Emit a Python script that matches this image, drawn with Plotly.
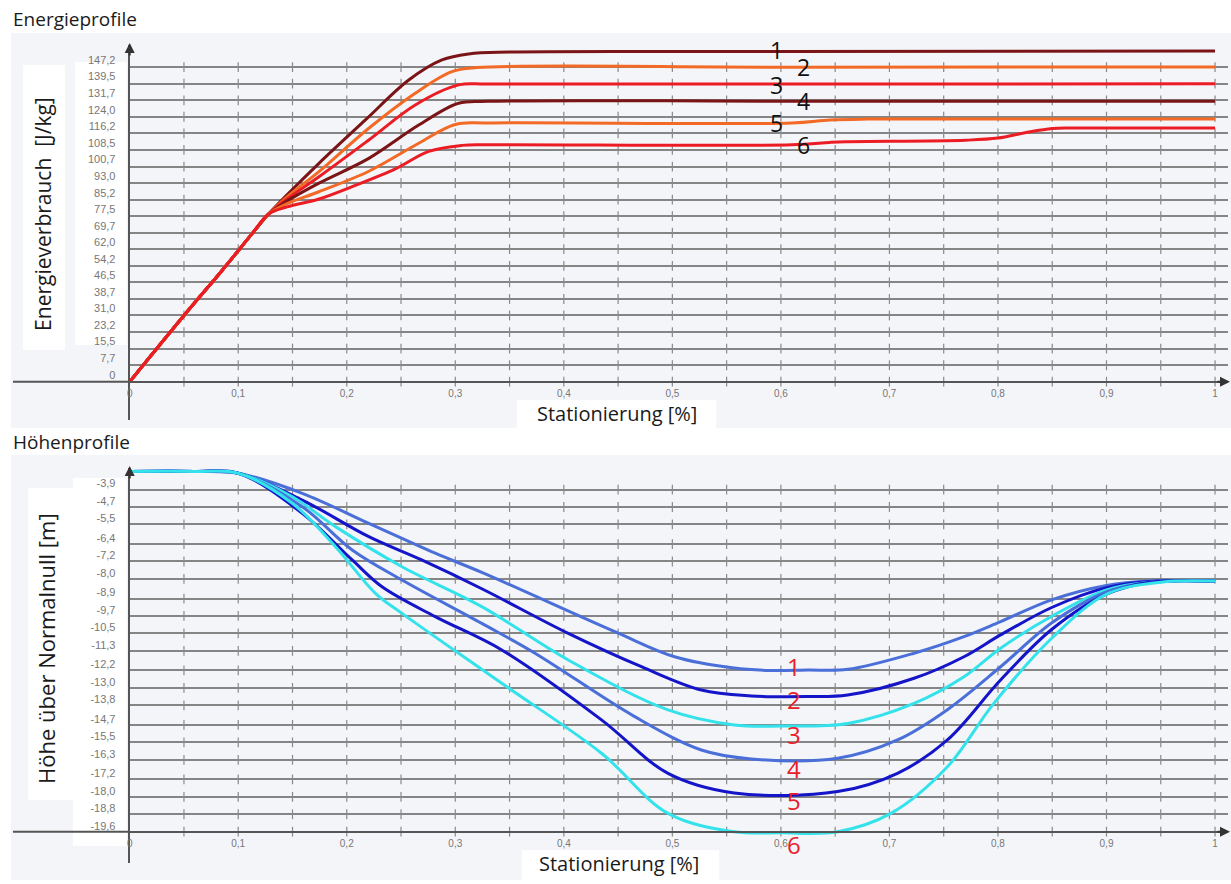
import plotly.graph_objects as go

# ---------------- data: energy profiles (top) ----------------
e1_x = [0, 0.05, 0.0855, 0.113, 0.128, 0.145, 0.1744, 0.2172, 0.2571, 0.2877, 0.3122, 0.35, 0.6, 1.0]
e1_y = [0, 31, 52.3, 69.4, 78.5, 87.5, 102.2, 122.5, 141.2, 150.6, 153.4, 154.3, 154.5, 154.8]
e2_x = [0, 0.05, 0.0855, 0.113, 0.128, 0.145, 0.1744, 0.2203, 0.2631, 0.2969, 0.32, 0.6, 1.0]
e2_y = [0, 31, 52.3, 69.4, 78.5, 86.5, 98.3, 118.6, 135.0, 145.1, 147.0, 147.2, 147.3]
e3_x = [0, 0.05, 0.0855, 0.113, 0.128, 0.145, 0.1744, 0.2203, 0.2631, 0.303, 0.33, 0.6, 1.0]
e3_y = [0, 31, 52.3, 69.4, 78.5, 85.5, 95.9, 113.1, 129.5, 138.9, 139.3, 139.3, 139.4]
e4_x = [0, 0.05, 0.0855, 0.113, 0.128, 0.145, 0.1744, 0.2203, 0.2663, 0.303, 0.33, 0.6, 1.0]
e4_y = [0, 31, 52.3, 69.4, 78.5, 84.5, 92.9, 104.5, 120.1, 130.3, 131.2, 131.3, 131.3]
e5_x = [0, 0.05, 0.0855, 0.113, 0.128, 0.145, 0.1744, 0.2203, 0.2663, 0.2999, 0.33, 0.61, 0.645, 0.68, 1.0]
e5_y = [0, 31, 52.3, 69.4, 78.5, 83.3, 88.9, 98.5, 111.6, 120.4, 121.1, 121.1, 122.5, 122.9, 122.9]
e6_x = [0, 0.05, 0.0855, 0.113, 0.128, 0.145, 0.1744, 0.205, 0.2448, 0.2755, 0.3061, 0.33, 0.61, 0.645,
        0.66, 0.77, 0.80, 0.825, 0.85, 0.87, 1.0]
e6_y = [0, 31, 52.3, 69.4, 78.5, 81.8, 85.5, 91.3, 99.6, 107.8, 110.6, 110.9, 110.9, 112.0,
        112.3, 113.0, 114.0, 116.5, 118.5, 118.7, 118.7]

# ---------------- data: height profiles (bottom) ----------------
h1_x = [0, 0.06, 0.1, 0.159, 0.2203, 0.2815, 0.3244, 0.447, 0.502, 0.557, 0.59, 0.6247, 0.6615,
        0.7227, 0.7687, 0.8024, 0.85, 0.9, 0.94, 1.0]
h1_y = [-3.07, -3.07, -3.15, -4.07, -5.45, -6.82, -7.7, -10.42, -11.57, -12.09, -12.2, -12.18, -12.15,
        -11.41, -10.65, -9.96, -8.95, -8.3, -8.1, -8.1]
h2_x = [0, 0.06, 0.1, 0.159, 0.2203, 0.269, 0.3244, 0.4041, 0.4715, 0.5267, 0.5726, 0.6247, 0.6615,
        0.7227, 0.7687, 0.8024, 0.85, 0.9, 0.94, 1.0]
h2_y = [-3.07, -3.07, -3.15, -4.38, -6.06, -7.13, -8.45, -10.5, -12.03, -13.1, -13.37, -13.4, -13.33,
        -12.56, -11.57, -10.57, -9.3, -8.4, -8.12, -8.1]
h3_x = [0, 0.06, 0.1, 0.1498, 0.1896, 0.2509, 0.3244, 0.4041, 0.496, 0.557, 0.6, 0.6615,
        0.7227, 0.7687, 0.8024, 0.85, 0.9, 0.94, 1.0]
h3_y = [-3.07, -3.07, -3.15, -4.23, -5.6, -7.44, -9.27, -11.72, -14.01, -14.7, -14.75, -14.63,
        -13.71, -12.49, -11.18, -9.7, -8.5, -8.15, -8.1]
h4_x = [0, 0.06, 0.1, 0.159, 0.205, 0.2509, 0.3244, 0.3734, 0.4653, 0.5267, 0.5726, 0.6523,
        0.7074, 0.7534, 0.8024, 0.85, 0.9, 0.94, 1.0]
h4_y = [-3.07, -3.07, -3.15, -4.69, -6.67, -8.05, -10.04, -11.41, -14.32, -15.85, -16.26, -16.23,
        -15.39, -14.0, -12.03, -10.0, -8.6, -8.15, -8.1]
h5_x = [0, 0.06, 0.1, 0.159, 0.205, 0.2325, 0.2815, 0.3428, 0.4347, 0.496, 0.557, 0.6523,
        0.7074, 0.7534, 0.8024, 0.85, 0.9, 0.94, 1.0]
h5_y = [-3.07, -3.07, -3.15, -4.99, -7.13, -8.36, -9.73, -11.26, -14.47, -16.92, -17.82, -17.76,
        -16.92, -15.39, -12.64, -10.3, -8.7, -8.15, -8.1]
h6_x = [0, 0.06, 0.1, 0.1498, 0.1896, 0.2264, 0.2509, 0.3428, 0.4347, 0.496, 0.557, 0.6, 0.6523,
        0.7013, 0.7534, 0.7962, 0.85, 0.9, 0.95, 1.0]
h6_y = [-3.07, -3.07, -3.15, -4.53, -6.52, -8.66, -9.58, -12.79, -16.0, -18.76, -19.6, -19.65, -19.6,
        -18.76, -16.62, -13.71, -10.7, -8.7, -8.15, -8.1]

# ---------------- tick labels ----------------
x_tick_vals = [0, 0.1, 0.2, 0.3, 0.4, 0.5, 0.6, 0.7, 0.8, 0.9, 1.0]
x_tick_text = ["0", "0,1", "0,2", "0,3", "0,4", "0,5", "0,6", "0,7", "0,8", "0,9", "1"]
e_tick_vals = [0, 7.7, 15.5, 23.2, 31.0, 38.7, 46.5, 54.2, 62.0, 69.7, 77.5, 85.2, 93.0, 100.7,
               108.5, 116.2, 124.0, 131.7, 139.5, 147.2]
h_tick_vals = [-3.9, -4.7, -5.5, -6.4, -7.2, -8.0, -8.9, -9.7, -10.5, -11.3, -12.2, -13.0, -13.8,
               -14.7, -15.5, -16.3, -17.2, -18.0, -18.8, -19.6]
minor_x = [round(0.05 * i, 2) for i in range(1, 21)]

curve_labels = ["1", "2", "3", "4", "5", "6"]
e_label_x = [0.596, 0.621, 0.596, 0.621, 0.596, 0.621]
e_label_y = [155.3, 147.3, 138.9, 131.4, 121.1, 110.8]
h_label_x = [0.612] * 6
h_label_y = [-12.04, -13.55, -15.16, -16.68, -18.15, -20.21]

E_COLORS = ["#7a1416", "#f26a25", "#ec1c24", "#7a1416", "#f26a25", "#ec1c24"]
H_COLORS = ["#4a6fd8", "#1414c8", "#33e2ea", "#4a6fd8", "#1414c8", "#33e2ea"]

W, H = 1231, 884
def px(x): return x / W
def py(y): return 1 - y / H

fmt = lambda v: f"{v:.1f}".replace(".", ",")

fig = go.Figure()

# tick crosses on gridlines (styling)
for ax_y, vals in (("y", e_tick_vals), ("y2", h_tick_vals)):
    xs, ys = [], []
    for v in vals:
        for mx in minor_x:
            xs.append(mx); ys.append(v)
    fig.add_trace(go.Scatter(x=xs, y=ys, mode="markers", xaxis="x" if ax_y == "y" else "x2", yaxis=ax_y,
                             marker=dict(symbol="line-ns", size=7, line=dict(width=1.2, color="#8a8a8a")),
                             hoverinfo="skip", showlegend=False))

for xs, ys, c in zip([e1_x, e2_x, e3_x, e4_x, e5_x, e6_x], [e1_y, e2_y, e3_y, e4_y, e5_y, e6_y], E_COLORS):
    fig.add_trace(go.Scatter(x=xs, y=ys, mode="lines", line=dict(color=c, width=3, shape="spline", smoothing=1.0),
                             xaxis="x", yaxis="y", showlegend=False))
for xs, ys, c in zip([h1_x, h2_x, h3_x, h4_x, h5_x, h6_x], [h1_y, h2_y, h3_y, h4_y, h5_y, h6_y], H_COLORS):
    fig.add_trace(go.Scatter(x=xs, y=ys, mode="lines", line=dict(color=c, width=3, shape="spline", smoothing=1.0),
                             xaxis="x2", yaxis="y2", showlegend=False))

tickfont = dict(family="Liberation Sans, Arial", size=10, color="#777777")
ytickfont = dict(family="Liberation Sans, Arial", size=11, color="#777777")
grid = dict(showgrid=True, gridcolor="#858585", gridwidth=2)

x_range = [0, (1228 - 127) / 1088]
fig.update_layout(
    width=W, height=H, margin=dict(l=0, r=0, t=0, b=0),
    paper_bgcolor="white", plot_bgcolor="rgba(0,0,0,0)",
    xaxis=dict(domain=[px(127), px(1228)], range=x_range, anchor="free", position=py(381.7),
               tickvals=x_tick_vals, ticktext=x_tick_text, tickfont=tickfont, showgrid=False,
               showline=True, linecolor="#555555", linewidth=2, zeroline=False, ticks="", ticklabelstandoff=2),
    yaxis=dict(domain=[py(420), py(45)], range=[(381.7 - 420) * 0.468, (381.7 - 45) * 0.468],
               tickvals=e_tick_vals, ticktext=[fmt(v) if v else "0" for v in e_tick_vals],
               tickfont=ytickfont, **grid, zeroline=False, showline=True, linecolor="#555555", linewidth=2,
               ticks="", ticklabelstandoff=10, ticklabelshift=-7, anchor="x"),
    xaxis2=dict(domain=[px(127), px(1228)], range=x_range, anchor="free", position=py(831.7),
                tickvals=x_tick_vals, ticktext=x_tick_text, tickfont=tickfont, showgrid=False,
                showline=True, linecolor="#555555", linewidth=2, zeroline=False, ticks="", ticklabelstandoff=2),
    yaxis2=dict(domain=[py(863), py(468)],
                range=[-19.6 - (863 - 831.7) * 0.04589, -19.6 + (831.7 - 468) * 0.04589],
                tickvals=h_tick_vals, ticktext=[fmt(v) for v in h_tick_vals],
                tickfont=ytickfont, **grid, zeroline=False, showline=True, linecolor="#555555", linewidth=2,
                ticks="", ticklabelstandoff=10, ticklabelshift=-6, anchor="x2"),
)

shapes = []
# panel backgrounds
for (x0, y0, x1, y1, col) in [(8, 33, 1231, 428, "#f4f5f9"), (8, 455, 1231, 880, "#f4f5f9"),
                              (20, 65, 62, 350, "white"), (72, 62, 124, 345, "white"),
                              (25, 488, 70, 800, "white"), (70, 478, 124, 846, "white"),
                              (515, 400, 715, 428, "white"), (520, 850, 718, 880, "white")]:
    shapes.append(dict(type="rect", xref="paper", yref="paper", x0=px(x0), x1=px(x1), y0=py(y1), y1=py(y0),
                       fillcolor=col, line=dict(width=0), layer="below"))
# x axis extension left of the origin
for yy in (381.7, 831.7):
    shapes.append(dict(type="line", xref="paper", yref="paper", x0=px(10), x1=px(127), y0=py(yy), y1=py(yy),
                       line=dict(color="#555555", width=2)))
fig.update_layout(shapes=shapes)

ann = []
txtfont = dict(family="Open Sans, Noto Sans, sans-serif", color="#1a1a1a")
ann.append(dict(text="Energieprofile", x=px(8), y=py(4), xref="paper", yref="paper", xanchor="left", yanchor="top",
                showarrow=False, font=dict(size=19, **txtfont)))
ann.append(dict(text="Höhenprofile", x=px(8), y=py(427), xref="paper", yref="paper", xanchor="left", yanchor="top",
                showarrow=False, font=dict(size=19, **txtfont)))
for cx, cy in ((615, 413), (618, 863)):
    ann.append(dict(text="Stationierung [%]", x=px(cx), y=py(cy), xref="paper", yref="paper",
                    xanchor="center", yanchor="middle",
                    showarrow=False, font=dict(size=20, **txtfont)))
ann.append(dict(text="Energieverbrauch  [J/kg]", x=px(40), y=py(214), xref="paper", yref="paper", textangle=-90,
                xanchor="center", yanchor="middle",
                showarrow=False, font=dict(size=21, **txtfont)))
ann.append(dict(text="Höhe über Normalnull [m]", x=px(43), y=py(648), xref="paper", yref="paper", textangle=-90,
                xanchor="center", yanchor="middle",
                showarrow=False, font=dict(size=22, **txtfont)))
# axis arrows
for (x, y, axx, ayy) in [(127, 43, 0, 14), (1230, 381.7, -14, 0), (127, 466, 0, 14), (1230, 831.7, -14, 0)]:
    ann.append(dict(text="", x=px(x), y=py(y), xref="paper", yref="paper", showarrow=True, ax=axx, ay=ayy,
                    arrowhead=2, arrowsize=1, arrowwidth=2, arrowcolor="#333333"))
for t, x, y in zip(curve_labels, e_label_x, e_label_y):
    ann.append(dict(text=t, x=x, y=y, xref="x", yref="y", showarrow=False,
                    font=dict(size=23, family="Open Sans, sans-serif", color="#111111")))
for t, x, y in zip(curve_labels, h_label_x, h_label_y):
    ann.append(dict(text=t, x=x, y=y, xref="x2", yref="y2", showarrow=False,
                    font=dict(size=24, family="Open Sans, sans-serif", color="#e8202a")))
fig.update_layout(annotations=ann)

fig.write_html("out.html", config={"displayModeBar": False},
               post_script="document.body.style.margin='0px';document.body.style.padding='0px';")
